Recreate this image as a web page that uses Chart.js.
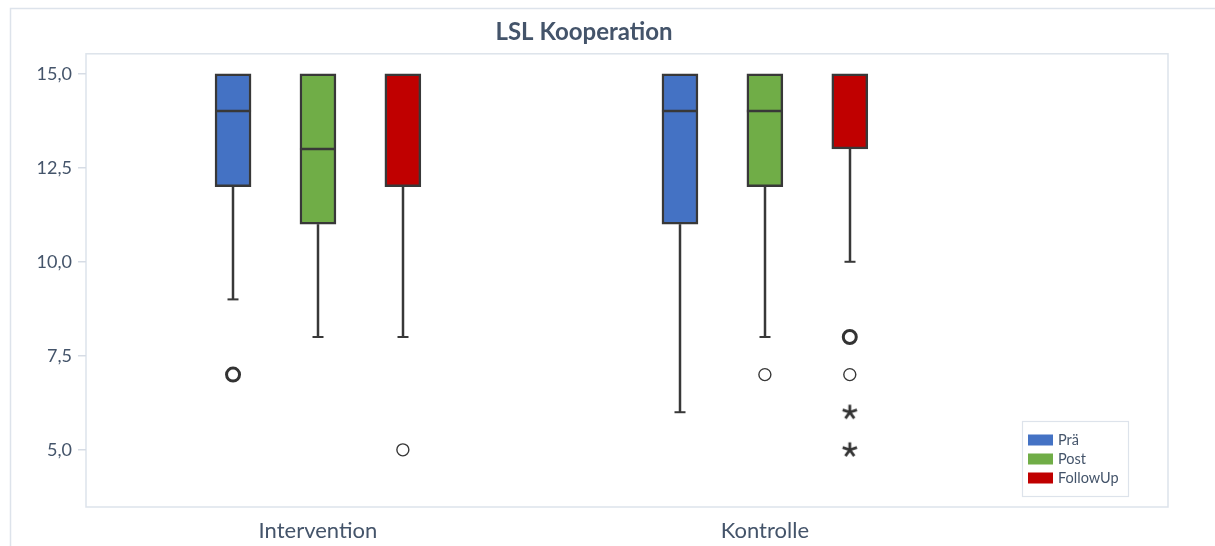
<!DOCTYPE html>
<html lang="de">
<head>
<meta charset="utf-8">
<title>LSL Kooperation</title>
<script src="https://cdn.jsdelivr.net/npm/chart.js@4/dist/chart.umd.min.js"></script>
<style>
  html, body { margin: 0; padding: 0; background: #ffffff; }
  #wrap { position: relative; width: 1215px; height: 546px; }
</style>
</head>
<body>
<div id="wrap"><canvas id="chart" width="1215" height="546"></canvas></div>
<script>
// Gruppen und Messzeitpunkte
const groups = ['Intervention', 'Kontrolle'];
const seriesNames = ['Prä', 'Post', 'FollowUp'];
const seriesColors = ['#4472c4', '#70ad47', '#c00000'];

// Boxplot-Kennwerte je Messzeitpunkt (Index = Gruppe)
const praeMin = [9, 6];
const praeQ1 = [12, 11];
const praeMedian = [14, 14];
const praeQ3 = [15, 15];
const praeMax = [15, 15];

const postMin = [8, 8];
const postQ1 = [11, 12];
const postMedian = [13, 14];
const postQ3 = [15, 15];
const postMax = [15, 15];

const followMin = [8, 10];
const followQ1 = [12, 13];
const followMedian = [15, 15];
const followQ3 = [15, 15];
const followMax = [15, 15];

// Ausreißer (Kreis) und Extremwerte (Stern)
const outlierGroup = [0, 1, 1];
const outlierSeries = [2, 1, 2];
const outlierValue = [5, 7, 7];
const multiOutlierGroup = [0, 1];
const multiOutlierSeries = [0, 2];
const multiOutlierValue = [7, 8];
const extremeGroup = [1, 1];
const extremeSeries = [2, 2];
const extremeValue = [6, 5];

// Achsenbeschriftung
const yTicks = [5, 7.5, 10, 12.5, 15];

const TEXT = '#44546a';
const LINE = '#383838';
const FRAME = '#dde3eb';
const SERIES_SHIFT = 0.19;

const stats = [
  { min: praeMin, q1: praeQ1, med: praeMedian, q3: praeQ3, max: praeMax },
  { min: postMin, q1: postQ1, med: postMedian, q3: postQ3, max: postMax },
  { min: followMin, q1: followQ1, med: followMedian, q3: followQ3, max: followMax }
];

const xPos = (g, s) => g + 1 + (s - 1) * SERIES_SHIFT;

const boxDatasets = seriesNames.map((name, s) => ({
  type: 'bar',
  label: name,
  data: groups.map((_, g) => ({ x: xPos(g, s), y: [stats[s].q1[g], stats[s].q3[g]] })),
  backgroundColor: seriesColors[s],
  borderColor: LINE,
  borderWidth: 2.5,
  borderSkipped: false,
  barThickness: 36,
  grouped: false,
  order: 2
}));

// Sternsymbol für Extremwerte
function makeAsterisk() {
  const c = document.createElement('canvas');
  c.width = 18; c.height = 18;
  const ctx = c.getContext('2d');
  ctx.strokeStyle = '#333333';
  ctx.lineWidth = 2.8;
  ctx.lineCap = 'butt';
  const cx = 9, cy = 9, r = 7.5;
  for (let i = 0; i < 5; i++) {
    const a = -Math.PI / 2 + i * 2 * Math.PI / 5;
    ctx.beginPath();
    ctx.moveTo(cx, cy);
    ctx.lineTo(cx + r * Math.cos(a), cy + r * Math.sin(a));
    ctx.stroke();
  }
  return c;
}

const pointDatasets = [
  {
    type: 'scatter',
    label: 'Ausreißer',
    data: outlierValue.map((v, i) => ({ x: xPos(outlierGroup[i], outlierSeries[i]), y: v })),
    pointStyle: 'circle',
    pointRadius: 6,
    pointBorderWidth: 1.4,
    pointBorderColor: LINE,
    pointBackgroundColor: '#ffffff',
    order: 1
  },
  {
    type: 'scatter',
    label: 'Ausreißer (mehrfach)',
    data: multiOutlierValue.map((v, i) => ({ x: xPos(multiOutlierGroup[i], multiOutlierSeries[i]), y: v })),
    pointStyle: 'circle',
    pointRadius: 6.5,
    pointBorderWidth: 3,
    pointBorderColor: '#333333',
    pointBackgroundColor: '#ffffff',
    order: 1
  },
  {
    type: 'scatter',
    label: 'Extremwerte',
    data: extremeValue.map((v, i) => ({ x: xPos(extremeGroup[i], extremeSeries[i]), y: v })),
    pointStyle: makeAsterisk(),
    pointRadius: 7,
    order: 1
  }
];

// Rahmen, Whisker, Mediane und Legende
const boxplotParts = {
  id: 'boxplotParts',
  beforeDraw(chart) {
    const { ctx, chartArea: a } = chart;
    ctx.save();
    ctx.strokeStyle = FRAME;
    ctx.lineWidth = 1.5;
    ctx.strokeRect(10.5, 8.5, chart.width + 20, chart.height + 20);
    ctx.strokeRect(a.left, a.top, a.right - a.left, a.bottom - a.top);
    ctx.restore();
  },
  beforeDatasetsDraw(chart) {
    const { ctx, scales: { y } } = chart;
    ctx.save();
    ctx.strokeStyle = LINE;
    ctx.lineWidth = 2.5;
    seriesNames.forEach((_, s) => {
      const meta = chart.getDatasetMeta(s);
      meta.data.forEach((bar, g) => {
        const cx = Math.round(bar.x);
        const half = 5.5;
        const segs = [[stats[s].q1[g], stats[s].min[g]], [stats[s].q3[g], stats[s].max[g]]];
        segs.forEach(([from, to]) => {
          if (from === to) return;
          const y0 = y.getPixelForValue(from), y1 = y.getPixelForValue(to);
          ctx.beginPath();
          ctx.moveTo(cx, y0); ctx.lineTo(cx, y1);
          ctx.stroke();
          ctx.lineWidth = 2;
          ctx.beginPath();
          ctx.moveTo(cx - half, y1); ctx.lineTo(cx + half, y1);
          ctx.stroke();
          ctx.lineWidth = 2.5;
        });
      });
    });
    ctx.restore();
  },
  afterDatasetsDraw(chart) {
    const { ctx, scales: { y } } = chart;
    ctx.save();
    ctx.strokeStyle = LINE;
    ctx.lineWidth = 2.5;
    seriesNames.forEach((_, s) => {
      const meta = chart.getDatasetMeta(s);
      meta.data.forEach((bar, g) => {
        const m = stats[s].med[g];
        if (m >= stats[s].q3[g]) return;
        const py = Math.round(y.getPixelForValue(m));
        ctx.beginPath();
        ctx.moveTo(bar.x - bar.width / 2, py);
        ctx.lineTo(bar.x + bar.width / 2, py);
        ctx.stroke();
      });
    });

    // Legende
    const lx = 1022.5, ly = 421.5, lw = 106, lh = 75;
    ctx.strokeStyle = FRAME;
    ctx.lineWidth = 1.2;
    ctx.strokeRect(lx, ly, lw, lh);
    ctx.font = '14.5px Lato';
    ctx.textBaseline = 'middle';
    ctx.textAlign = 'left';
    seriesNames.forEach((name, s) => {
      const rowY = 440 + s * 19;
      ctx.fillStyle = seriesColors[s];
      ctx.fillRect(1028, rowY - 5.5, 25, 11);
      ctx.fillStyle = TEXT;
      ctx.fillText(name, 1058, rowY);
    });
    ctx.restore();
  }
};

new Chart(document.getElementById('chart'), {
  data: { datasets: [...boxDatasets, ...pointDatasets] },
  options: {
    responsive: false,
    animation: false,
    layout: { padding: { left: 0, right: 47, top: 0, bottom: 0 } },
    plugins: {
      legend: { display: false },
      tooltip: { enabled: false },
      title: {
        display: true,
        text: 'LSL Kooperation',
        color: TEXT,
        font: { family: 'Lato', size: 24, weight: 'bold', lineHeight: 1.2 },
        padding: { top: 18, bottom: 7 }
      }
    },
    scales: {
      x: {
        type: 'linear',
        offset: false,
        min: 0.481,
        max: 2.902,
        grid: { display: false, offset: false },
        border: { display: false },
        afterBuildTicks(axis) { axis.ticks = groups.map((_, g) => ({ value: g + 1 })); },
        afterFit(axis) { axis.height = 39; },
        ticks: {
          autoSkip: false,
          maxRotation: 0,
          padding: 3,
          color: TEXT,
          font: { family: 'Lato', size: 22 },
          callback: (v) => groups[Math.round(v) - 1] || ''
        }
      },
      y: {
        type: 'linear',
        min: 3.48,
        max: 15.53,
        border: { display: false },
        grid: { drawOnChartArea: false, drawTicks: true, tickLength: 8, color: '#d6dce5', lineWidth: 1.5 },
        afterBuildTicks(axis) { axis.ticks = yTicks.map(v => ({ value: v })); },
        afterFit(axis) { axis.width = 86; },
        ticks: {
          padding: 6,
          color: TEXT,
          font: { family: 'Lato', size: 18 },
          callback: (v) => v.toFixed(1).replace('.', ',')
        }
      }
    }
  },
  plugins: [boxplotParts]
});
</script>
</body>
</html>
